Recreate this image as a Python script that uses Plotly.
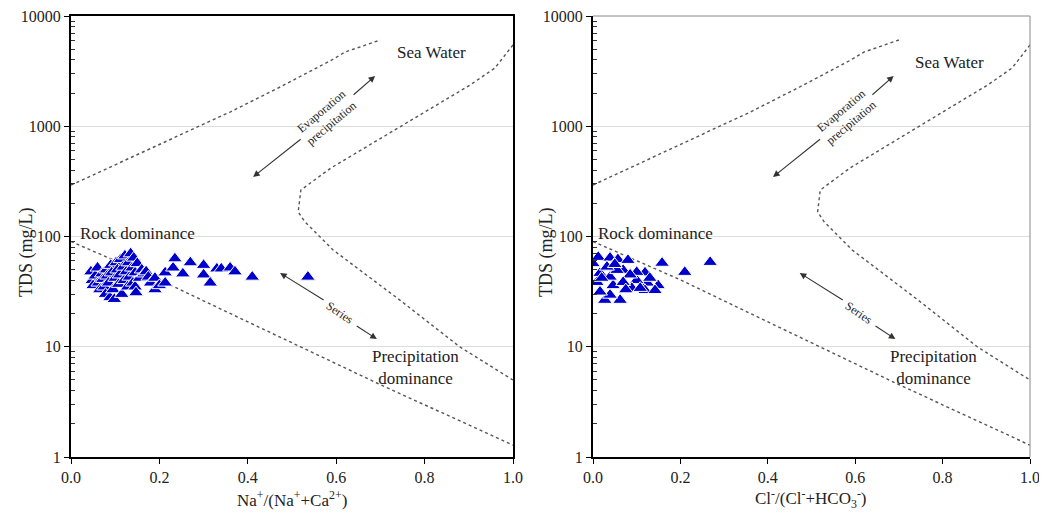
import numpy as np
import plotly.graph_objects as go

# ---------------- data ----------------
# Gibbs boundary curves (x ratio, TDS mg/L)
upper_x = [0.0, 0.1, 0.2, 0.3, 0.36, 0.473, 0.59, 0.62, 0.70]
upper_tds = [293, 446, 683, 1047, 1346, 2270, 3990, 4710, 6060]

right_x = [1.0, 0.959, 0.903, 0.790, 0.676, 0.588, 0.520, 0.514, 0.529, 0.593, 0.744, 0.880, 1.0]
right_tds = [5460, 3373, 2366, 1265, 676, 418, 264, 167, 136, 75.5, 26.5, 9.95, 4.99]

lower_x = [0.0, 0.201, 0.382, 0.692, 1.0]
lower_tds = [90, 40.3, 18.2, 4.69, 1.28]

# Samples: Na+/(Na+ + Ca2+) vs TDS
na_ratio = [0.045, 0.048, 0.05, 0.055, 0.06, 0.062, 0.065, 0.07, 0.072, 0.075,
            0.078, 0.08, 0.082, 0.085, 0.088, 0.09, 0.092, 0.095, 0.098, 0.10,
            0.102, 0.105, 0.108, 0.11, 0.112, 0.115, 0.118, 0.12, 0.122, 0.125,
            0.128, 0.13, 0.132, 0.135, 0.138, 0.14, 0.142, 0.145, 0.145, 0.147,
            0.15, 0.155, 0.16, 0.165, 0.17, 0.175, 0.18, 0.19, 0.19, 0.20,
            0.213, 0.213, 0.231, 0.235, 0.253, 0.27, 0.30, 0.30, 0.315, 0.33,
            0.34, 0.36, 0.371, 0.41, 0.536]
na_tds = [48, 40, 36, 44, 52, 38, 33, 46, 41, 35,
          30, 50, 44, 38, 28, 55, 47, 33, 27, 42,
          58, 50, 37, 45, 62, 30, 53, 40, 67, 48,
          35, 58, 43, 70, 52, 38, 64, 47, 35, 31,
          57, 42, 50, 46, 48, 43, 38, 42, 33, 36,
          47, 38, 52, 63, 46, 58, 55, 45, 38, 51,
          51, 52, 48, 43, 43]

# Samples: Cl-/(Cl- + HCO3-) vs TDS
cl_ratio = [0.0, 0.012, 0.039, 0.057, 0.08, 0.119, 0.149, 0.124, 0.10, 0.089,
            0.119, 0.142, 0.062, 0.027, 0.039, 0.046, 0.016, 0.009, 0.016, 0.039,
            0.069, 0.055, 0.10, 0.085, 0.032, 0.069, 0.108, 0.158, 0.21, 0.268,
            0.05, 0.02, 0.075, 0.13]
cl_tds = [57, 65, 64, 62, 61, 47, 36, 38, 40, 34,
          32.5, 32.5, 26.5, 26.5, 29.5, 36, 31.5, 38.5, 46.5, 43,
          49.5, 49.5, 47.5, 45, 53, 38.5, 34, 57.5, 47.5, 58.5,
          56, 42, 33, 42]

y_ticks = [1, 10, 100, 1000, 10000]
y_ticktext = ["1", "10", "100", "1000", "10000"]
x_ticks = [0.0, 0.2, 0.4, 0.6, 0.8, 1.0]
x_ticktext = ["0.0", "0.2", "0.4", "0.6", "0.8", "1.0"]
y_minor = [m * 10 ** d for d in range(4) for m in range(2, 10)]

# ---------------- figure ----------------
OFF = 8                      # default page body margin
W, H = 1047 - 2 * OFF, 519 - 2 * OFF
FONT = "Liberation Serif"
TXT = "#222222"
CURVE = "#555555"
MARK = "#0000CC"

fig = go.Figure()

for xa, ya, sx, sy in [("x", "y", na_ratio, na_tds), ("x2", "y2", cl_ratio, cl_tds)]:
    for cx, cy in [(upper_x, upper_tds), (right_x, right_tds), (lower_x, lower_tds)]:
        fig.add_trace(go.Scatter(x=cx, y=cy, mode="lines", xaxis=xa, yaxis=ya,
                                 line=dict(color=CURVE, width=1.4, dash="dot"),
                                 hoverinfo="skip", showlegend=False))
    fig.add_trace(go.Scatter(x=sx, y=sy, mode="markers", xaxis=xa, yaxis=ya,
                             marker=dict(symbol="triangle-up", size=13, color=MARK,
                                         line=dict(color="white", width=1)),
                             showlegend=False))

def px(v):
    return (v - OFF) / W

def py(v):
    return 1 - (v - OFF) / H

axis_font = dict(family=FONT, size=16, color=TXT)
common_x = dict(range=[0, 1], tickvals=x_ticks, ticktext=x_ticktext, ticks="outside",
                ticklen=5, tickcolor="black", showgrid=False, zeroline=False,
                showline=True, linecolor="black", linewidth=2, tickfont=axis_font,
                automargin=False, ticklabeloverflow="allow")
common_y = dict(type="log", range=[0, 4], tickvals=y_ticks, ticktext=y_ticktext,
                ticks="outside", ticklen=5, tickcolor="black", showgrid=True,
                gridcolor="#dddddd", gridwidth=1, zeroline=False, showline=True,
                linecolor="black", linewidth=2, tickfont=axis_font, automargin=False,
                ticklabeloverflow="allow",
                minor=dict(tickmode="array", tickvals=y_minor, ticks="inside", ticklen=4,
                           tickcolor="#333333", tickwidth=1, showgrid=False))

ydom = [py(457), py(16)]
fig.update_layout(
    width=W, height=H,
    margin=dict(l=0, r=0, t=0, b=0),
    paper_bgcolor="white", plot_bgcolor="white",
    font=dict(family=FONT, color=TXT),
    xaxis=dict(domain=[px(71), px(513)], anchor="y", mirror=True, **common_x),
    yaxis=dict(domain=ydom, anchor="x", mirror=True, **common_y),
    xaxis2=dict(domain=[px(593), px(1030)], anchor="y2", mirror=False, **common_x),
    yaxis2=dict(domain=ydom, anchor="x2", mirror=False, **common_y),
)

# thin grey top/right frame on the right panel
fig.add_shape(type="line", xref="x2 domain", yref="y2 domain", x0=0, x1=1, y0=1, y1=1,
              line=dict(color="#888888", width=1))
fig.add_shape(type="line", xref="x2 domain", yref="y2 domain", x0=1, x1=1, y0=0, y1=1,
              line=dict(color="#888888", width=1))

ann = []
for xa, ya, sea_y, rock_x in [("x", "y", 3.673, 0.016), ("x2", "y2", 3.58, 0.007)]:
    ann.append(dict(xref=xa, yref=ya, x=0.815, y=sea_y, text="Sea Water", showarrow=False,
                    font=dict(family=FONT, size=17, color=TXT)))
    ann.append(dict(xref=xa, yref=ya, x=rock_x, y=2.03, text="Rock dominance", showarrow=False,
                    xanchor="left", font=dict(family=FONT, size=17, color=TXT)))
    ann.append(dict(xref=xa, yref=ya, x=0.78, y=0.816, text="Precipitation<br>dominance",
                    showarrow=False, font=dict(family=FONT, size=17, color=TXT)))
    # arrows drawn as two segments with a gap for the label
    for tip, tail in [((0.412, 2.540), (0.523, 2.893)), ((0.688, 3.456), (0.636, 3.274)),
                      ((0.473, 1.669), (0.575, 1.415)), ((0.692, 1.070), (0.643, 1.197))]:
        ann.append(dict(xref=xa, yref=ya, x=tip[0], y=tip[1], ax=tail[0], ay=tail[1],
                        axref=xa, ayref=ya, text="", showarrow=True, arrowhead=2,
                        arrowsize=1.2, arrowwidth=1.1, arrowcolor="#333333"))
    ann.append(dict(xref=xa, yref=ya, x=0.579, y=3.084, text="Evaporation<br>precipitation",
                    showarrow=False, textangle=-40,
                    font=dict(family=FONT, size=12, color=TXT)))
    ann.append(dict(xref=xa, yref=ya, x=0.609, y=1.306, text="Series", showarrow=False,
                    textangle=34, font=dict(family=FONT, size=12, color=TXT)))

# axis titles
for xt in (26, 546):
    ann.append(dict(xref="paper", yref="paper", x=px(xt), y=py(252), text="TDS (mg/L)",
                    textangle=-90, showarrow=False, xanchor="center", yanchor="middle",
                    font=dict(family=FONT, size=18, color=TXT)))
ann.append(dict(xref="paper", yref="paper", x=px(292), y=py(499),
                text="Na<sup>+</sup>/(Na<sup>+</sup>+Ca<sup>2+</sup>)", xanchor="center",
                yanchor="middle", showarrow=False, font=dict(family=FONT, size=17, color=TXT)))
ann.append(dict(xref="paper", yref="paper", x=px(811), y=py(498),
                text="Cl<sup>-</sup>/(Cl<sup>-</sup>+HCO<sub>3</sub><sup>-</sup>)",
                xanchor="center", yanchor="middle", showarrow=False,
                font=dict(family=FONT, size=17, color=TXT)))

fig.update_layout(annotations=ann)
fig.write_html("out.html")
